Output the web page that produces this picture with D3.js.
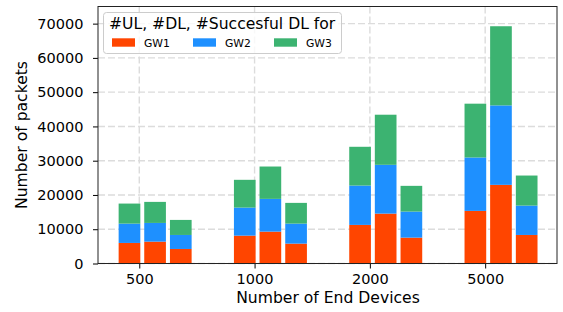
<!DOCTYPE html>
<html><head><meta charset="utf-8">
<script src="https://cdn.jsdelivr.net/npm/d3@7"></script>
<style>body{margin:0;background:#fff;}svg{display:block;font-family:"DejaVu Sans",sans-serif;}</style>
</head><body><svg id="c" width="563" height="312"></svg>
<script>
const categories = ["500", "1000", "2000", "5000"];
const series = ["GW1", "GW2", "GW3"];
const barKinds = ["UL", "DL", "SuccessfulDL"];
// values per gateway: [category][barKind]
const gw1 = [[6000, 6380, 4240], [8130, 9300, 5800], [11260, 14560, 7550], [15350, 22950, 8330]];
const gw2 = [[5640, 5460, 4090], [8190, 9560, 5840], [11490, 14240, 7600], [15590, 23190, 8570]];
const gw3 = [[5850, 6140, 4390], [8100, 9440, 6050], [11310, 14620, 7510], [15700, 23100, 8770]];
const yTicks = [0, 10000, 20000, 30000, 40000, 50000, 60000, 70000];
const colors = ["#FF4500", "#1E90FF", "#3CB371"];

const svg = d3.select("#c");
const L = 98, R = 557, T = 6.5, B = 263.5;
const x = d3.scaleLinear().domain([-0.358, 3.623]).range([L, R]);
const y = d3.scaleLinear().domain([0, 75000]).range([B, T]);
const offsets = [-0.085, 0.137, 0.36];
const bw = 0.188;

// grid
const g = svg.append("g");
yTicks.forEach(t => g.append("line").attr("x1", L).attr("x2", R).attr("y1", y(t)).attr("y2", y(t))
  .attr("stroke", "#dcdcdc").attr("stroke-width", 1.4).attr("stroke-dasharray", "7,3"));
categories.forEach((c, i) => g.append("line").attr("x1", x(i)).attr("x2", x(i)).attr("y1", T).attr("y2", B)
  .attr("stroke", "#dcdcdc").attr("stroke-width", 1.4).attr("stroke-dasharray", "7,3"));

// bars
const data = [gw1, gw2, gw3];
categories.forEach((c, ci) => {
  barKinds.forEach((k, bi) => {
    let base = 0;
    series.forEach((s, si) => {
      const v = data[si][ci][bi];
      const x0 = x(ci + offsets[bi] - bw / 2), x1 = x(ci + offsets[bi] + bw / 2);
      svg.append("rect").attr("x", x0).attr("width", x1 - x0)
        .attr("y", y(base + v)).attr("height", y(base) - y(base + v))
        .attr("fill", colors[si]);
      base += v;
    });
  });
});

// axes
const xa = svg.append("g").attr("transform", `translate(0,${B})`)
  .call(d3.axisBottom(x).tickValues([0, 1, 2, 3]).tickFormat(i => categories[i]).tickSize(5).tickPadding(5.2));
const ya = svg.append("g").attr("transform", `translate(${L},0)`)
  .call(d3.axisLeft(y).tickValues(yTicks).tickFormat(d3.format("d")).tickSize(5).tickPadding(9.5));
[xa, ya].forEach(a => {
  a.select(".domain").remove();
  a.selectAll("text").attr("font-size", 14.5).attr("font-family", "DejaVu Sans").attr("fill", "#000");
  a.selectAll("line").attr("stroke", "#000").attr("stroke-width", 1);
});
svg.append("rect").attr("x", L).attr("y", T).attr("width", R - L).attr("height", B - T)
  .attr("fill", "none").attr("stroke", "#222").attr("stroke-width", 1);

svg.append("text").attr("x", (L + R) / 2 + 0.5).attr("y", 302.5).attr("text-anchor", "middle")
  .attr("font-size", 15.6).text("Number of End Devices");
svg.append("text").attr("transform", `translate(26.5,${(T + B) / 2}) rotate(-90)`).attr("text-anchor", "middle")
  .attr("font-size", 15.6).text("Number of packets");

// legend
const lg = svg.append("g");
lg.append("rect").attr("x", 103.5).attr("y", 12.5).attr("width", 238).attr("height", 41).attr("rx", 3)
  .attr("fill", "#fff").attr("fill-opacity", 0.8).attr("stroke", "#cccccc").attr("stroke-width", 1);
lg.append("text").attr("x", 109).attr("y", 29).attr("font-size", 15.6).text("#UL, #DL, #Succesful DL for");
const lx = [112, 193, 274];
series.forEach((s, i) => {
  lg.append("rect").attr("x", lx[i]).attr("y", 38.3).attr("width", 23).attr("height", 8.4).attr("fill", colors[i]);
  lg.append("text").attr("x", lx[i] + 32).attr("y", 46.5).attr("font-size", 10.8).text(s);
});
</script></body></html>
